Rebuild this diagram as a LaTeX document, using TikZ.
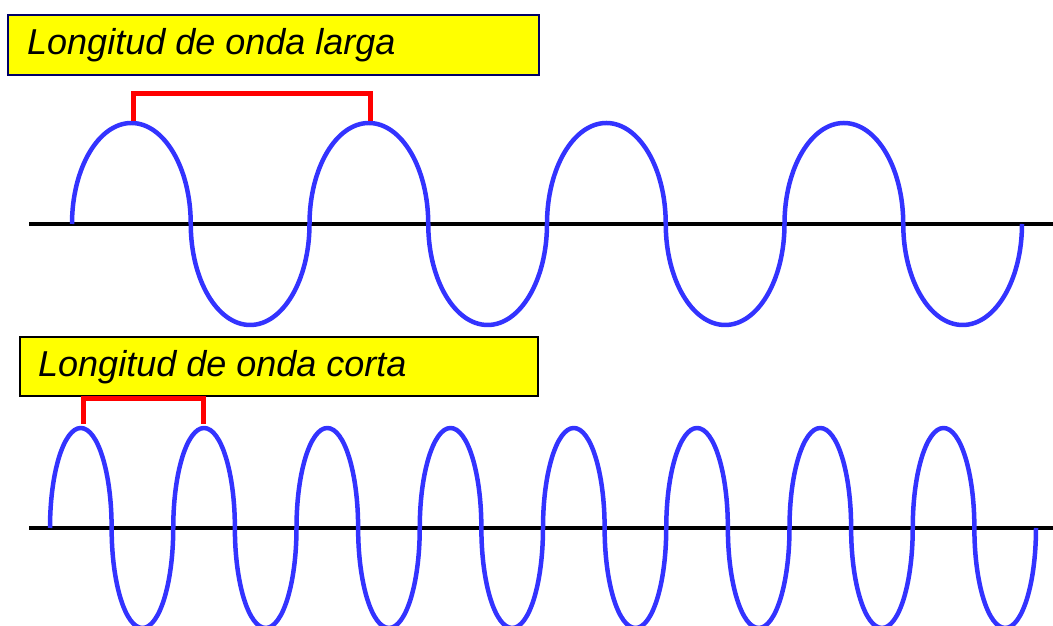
\documentclass[tikz,border=0pt]{standalone}
\usepackage{fontspec}
\setmainfont{Liberation Sans}
\definecolor{wblue}{HTML}{3333FF}
\definecolor{navy}{HTML}{000066}
\definecolor{boxyellow}{HTML}{FFFF00}
\begin{document}
\begin{tikzpicture}[x=1pt,y=1pt,
  labelbox/.style={draw=#1, line width=2pt, fill=boxyellow, anchor=north west, inner sep=0pt},
  labeltext/.style={anchor=base west, inner sep=0pt, font=\fontsize{36}{43}\selectfont\itshape},
  axisline/.style={line width=4.5pt, black},
  wave/.style={line width=4.5pt, wblue, line join=round},
  bracket/.style={line width=5pt, red, line join=miter}]
\useasboundingbox (0,0) rectangle (1053,626);
\clip (0,0) rectangle (1053,626);
% label boxes
\node[labelbox=navy, minimum width=531pt, minimum height=60pt] (box1) at (7,612) {};
\node[labeltext] (text1) at (27,571) {Longitud de onda larga};
\node[labelbox=black, minimum width=518pt, minimum height=59pt] (box2) at (19,290) {};
\node[labeltext] (text2) at (38,249) {Longitud de onda corta};
% axes
\coordinate (a1s) at (29,402); \coordinate (a1e) at (1053,402);
\coordinate (a2s) at (29,98);  \coordinate (a2e) at (1053,98);
\draw[axisline] (a1s) -- (a1e);
\draw[axisline] (a2s) -- (a2e);
% long wave
\coordinate (w1) at (72,402);
\draw[wave] (w1) \foreach \i in {1,...,4} {
  arc[start angle=180,end angle=0,x radius=59.375,y radius=101]
  arc[start angle=180,end angle=360,x radius=59.375,y radius=101]};
% short wave
\coordinate (w2) at (50,98);
\draw[wave] (w2) \foreach \i in {1,...,8} {
  arc[start angle=180,end angle=0,x radius=30.8125,y radius=100]
  arc[start angle=180,end angle=360,x radius=30.8125,y radius=100]};
% brackets
\coordinate (b1l) at (133,505); \coordinate (b1r) at (370,505);
\draw[bracket] (b1l) -- ++(0,27) -| (b1r);
\coordinate (b2l) at (83,202); \coordinate (b2r) at (203,202);
\draw[bracket] (b2l) -- ++(0,25) -| (b2r);
\end{tikzpicture}
\end{document}
